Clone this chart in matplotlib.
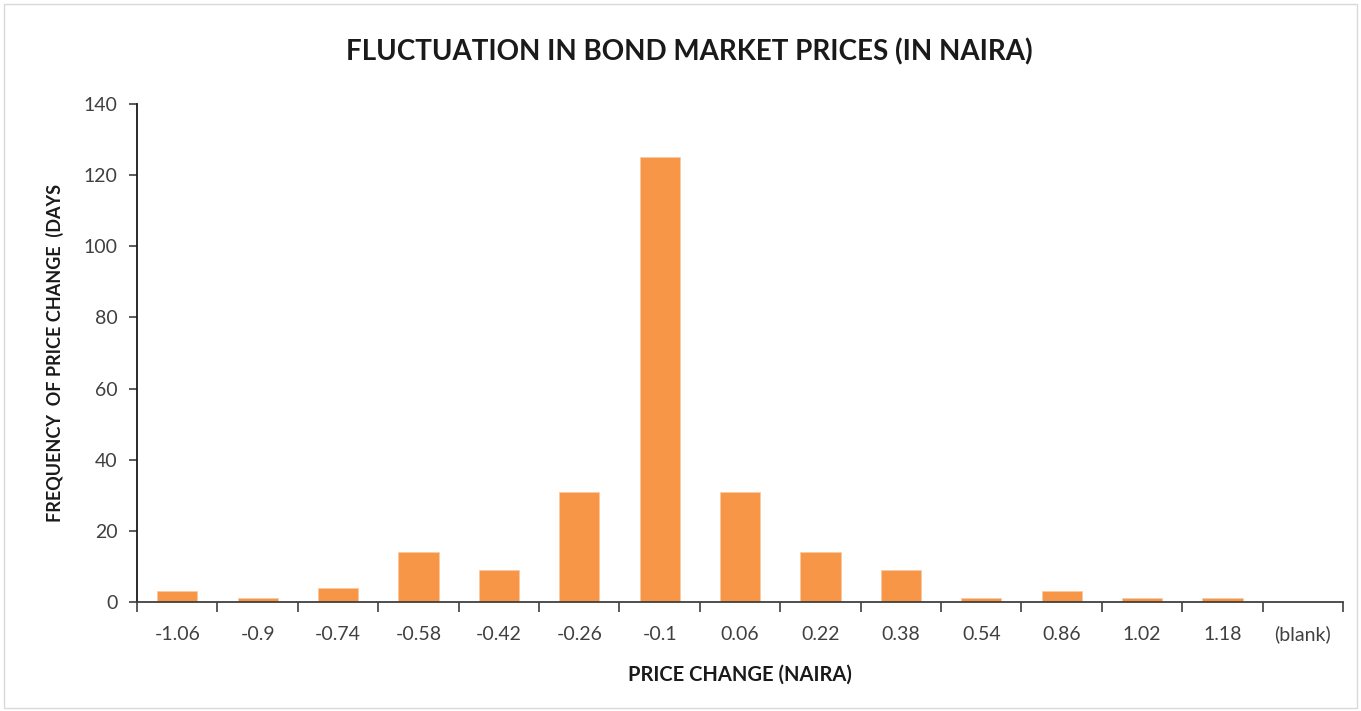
import matplotlib
matplotlib.use("Agg")
import matplotlib.pyplot as plt
import numpy as np
from matplotlib.patches import Rectangle

# price change bins (naira) and how many days fell into each
categories = ["-1.06", "-0.9", "-0.74", "-0.58", "-0.42", "-0.26", "-0.1",
              "0.06", "0.22", "0.38", "0.54", "0.86", "1.02", "1.18", "(blank)"]
frequency = [3, 1, 4, 14, 9, 31, 125, 31, 14, 9, 1, 3, 1, 1, 0]

plt.rcParams['font.family'] = ['Lato', 'DejaVu Sans']

fig = plt.figure(figsize=(13.61, 7.11), dpi=100)
ax = fig.add_axes([137 / 1361, 1 - 602 / 711, (1343 - 137) / 1361, (602 - 104) / 711])

x = np.arange(len(categories))
ax.bar(x, frequency, width=0.5, color="#F79646", edgecolor="#FBC9A3", linewidth=0.6, zorder=2)

ax.set_xlim(-0.5, len(categories) - 0.5)
ax.set_ylim(0, 140)
ax.set_yticks(range(0, 141, 20))
ax.set_xticks(x)
ax.set_xticklabels(categories)
ax.set_xticks(np.arange(-0.5, len(categories)), minor=True)

ax.tick_params(axis='x', which='major', length=0, pad=17, labelsize=14, colors="#404040")
ax.tick_params(axis='x', which='minor', length=7, width=1.2, direction='out', color="#404040")
ax.tick_params(axis='y', length=6, width=1.2, direction='out', pad=8, labelsize=14, colors="#404040")

for side in ("top", "right"):
    ax.spines[side].set_visible(False)
ax.spines["left"].set_linewidth(1.3)
ax.spines["left"].set_color("#1a1a1a")
ax.spines["bottom"].set_linewidth(1.3)
ax.spines["bottom"].set_color("#404040")

ax.set_xlabel("PRICE CHANGE (NAIRA)", fontsize=14.5, fontweight='bold', labelpad=15, color="#1a1a1a")
ax.set_ylabel("FREQUENCY  OF PRICE CHANGE  (DAYS", fontsize=13, fontweight='bold', labelpad=14,
              color="#1a1a1a")

fig.text(689 / 1361, 1 - 52 / 711, "FLUCTUATION IN BOND MARKET PRICES (IN NAIRA)",
         ha='center', va='center', fontsize=20, fontweight='bold', color="#1a1a1a")

# light chart-area border
fig.patches.append(Rectangle((0.003, 0.004), 0.994, 0.99, transform=fig.transFigure,
                             fill=False, edgecolor="#d9d9d9", linewidth=1))

fig.savefig("out.png", dpi=100)
